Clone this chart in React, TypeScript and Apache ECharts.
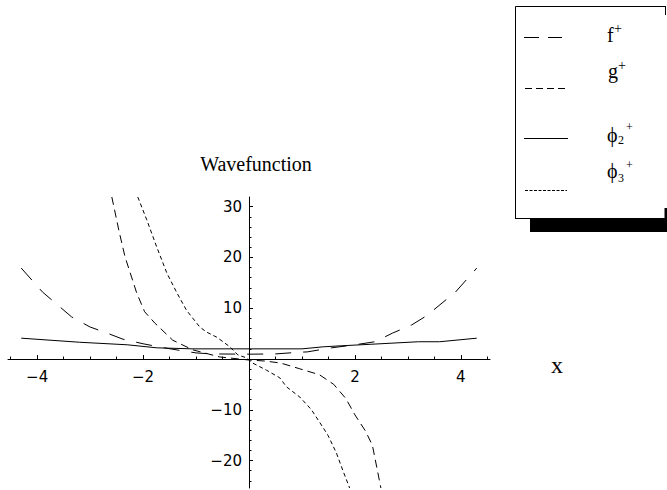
import React, { useEffect, useRef } from "react";
import * as echarts from "echarts";

// ---- data ----
const fPlus: number[][] = [
  [-4.3, 17.9], [-3.9, 13.2], [-3.35, 8.3], [-3.0, 6.3], [-2.68, 5.1], [-2.38, 3.9],
  [-2.0, 3.0], [-1.6, 2.2], [-1.25, 1.6], [-1.0, 1.2], [-0.7, 1.0], [0, 0.95],
  [0.5, 1.0], [0.9, 1.3], [1.1, 1.4], [1.56, 2.2], [2.0, 2.8], [2.38, 3.4],
  [2.71, 5.1], [3.07, 6.7], [3.35, 8.5], [3.9, 13.2], [4.3, 17.9],
];
const gPlus: number[][] = [
  [-2.59, 31.9], [-2.45, 25], [-2.34, 20.1], [-2.12, 13.0], [-1.97, 9.3], [-1.78, 7.1],
  [-1.44, 3.7], [-1.06, 1.8], [-0.55, 0.4], [0, -0.2], [0.3, -0.4], [0.6, -0.8],
  [0.95, -1.9], [1.33, -3.1], [1.6, -5.0], [1.83, -7.8], [2.0, -11], [2.2, -14.2],
  [2.33, -17], [2.49, -25.4],
];
const phi2Plus: number[][] = [
  [-4.3, 4.1], [-3.2, 3.3], [-2.3, 2.8], [-1.74, 2.2], [-1.06, 2.0], [0, 2.0],
  [1.0, 2.0], [1.4, 2.4], [1.74, 2.6], [2.3, 2.9], [3.2, 3.4], [3.6, 3.4], [4.3, 4.1],
];
const phi3Plus: number[][] = [
  [-2.1, 31.9], [-1.93, 27.4], [-1.74, 22.0], [-1.55, 16.9], [-1.36, 13.0], [-1.18, 9.6],
  [-0.93, 6.3], [-0.8, 5.3], [-0.61, 4.3], [-0.36, 2.4], [-0.21, 0.8], [-0.04, 0.2],
  [0.07, -0.8], [0.33, -2.2], [0.58, -3.7], [0.71, -5.5], [0.96, -7.5], [1.18, -10.0],
  [1.33, -12.4], [1.49, -15.0], [1.65, -18.5], [1.77, -21.9], [1.9, -25.4],
];

const xMajorLabels = [-4, -2, 2, 4];
const xMinorTicks = [-4.5, -4, -3.5, -3, -2.5, -2, -1.5, -1, -0.5, 0.5, 1, 1.5, 2, 2.5, 3, 3.5, 4, 4.5];
const yMajorLabels = [-20, -10, 10, 20, 30];
const yMinorTicks = [-24, -22, -20, -18, -16, -14, -12, -10, -8, -6, -4, -2, 2, 4, 6, 8, 10, 12, 14, 16, 18, 20, 22, 24, 26, 28, 30];

const X_MIN = -4.55, X_MAX = 4.55, Y_MIN = -25.4, Y_MAX = 31.9;

const fmt = (v: number) => String(v).replace("-", "\u2212");
const SERIF = "'Liberation Serif', 'Times New Roman', serif";
const SANS = "'DejaVu Sans', sans-serif";

const GRID = { left: 8, top: 197, width: 482, height: 291 };

export default function App() {
  const ref = useRef<HTMLDivElement>(null);
  useEffect(() => {
    if (!ref.current) return;
    const chart = echarts.init(ref.current, undefined, { renderer: "svg" });
    const axisLineStyle = { color: "#000", width: 1 };
    // place the axes on the zero lines of the other axis (scale-derived offsets)
    const xAxisOffset = -(GRID.height * (0 - Y_MIN)) / (Y_MAX - Y_MIN);
    const yAxisOffset = -(GRID.width * (0 - X_MIN)) / (X_MAX - X_MIN);
    const mk = (name: string, data: number[][], dash: any) => ({
      name,
      type: "line",
      data,
      showSymbol: false,
      symbol: "none",
      smooth: false,
      clip: true,
      lineStyle: { color: "#000", width: 1, type: dash },
      emphasis: { disabled: true },
    });
    const legendText = (text: string, x: number, y: number, size: number) => ({
      type: "text",
      x,
      y,
      style: {
        text,
        fill: "#000",
        font: `${size}px ${SERIF}`,
        textAlign: "left",
        textVerticalAlign: "middle",
      },
    });
    const hline = (x1: number, x2: number, y: number, dash: any) => ({
      type: "line",
      shape: { x1, y1: y, x2, y2: y },
      style: { stroke: "#000", lineWidth: 1, lineDash: dash },
    });
    chart.setOption({
      animation: false,
      backgroundColor: "#fff",
      grid: { ...GRID, containLabel: false, outerBoundsMode: "none" },
      xAxis: [
        {
          type: "value",
          position: "bottom",
          offset: xAxisOffset,
          min: X_MIN,
          max: X_MAX,
          axisLine: { show: true, onZero: false, lineStyle: axisLineStyle },
          axisTick: { show: true, inside: true, length: 4, customValues: xMajorLabels, lineStyle: axisLineStyle },
          axisLabel: {
            show: true,
            customValues: xMajorLabels,
            formatter: fmt,
            color: "#000",
            fontFamily: SANS,
            fontSize: 15,
            margin: 10,
          },
          splitLine: { show: false },
        },
        {
          type: "value",
          position: "bottom",
          offset: xAxisOffset,
          min: X_MIN,
          max: X_MAX,
          axisLine: { show: false, onZero: false },
          axisTick: { show: true, inside: true, length: 2.5, customValues: xMinorTicks, lineStyle: axisLineStyle },
          axisLabel: { show: false },
          splitLine: { show: false },
        },
      ],
      yAxis: [
        {
          type: "value",
          position: "left",
          offset: yAxisOffset,
          min: Y_MIN,
          max: Y_MAX,
          axisLine: { show: true, onZero: false, lineStyle: axisLineStyle },
          axisTick: { show: true, inside: true, length: 4, customValues: yMajorLabels, lineStyle: axisLineStyle },
          axisLabel: {
            show: true,
            customValues: yMajorLabels,
            formatter: fmt,
            color: "#000",
            fontFamily: SANS,
            fontSize: 15,
            margin: 7,
          },
          splitLine: { show: false },
        },
        {
          type: "value",
          position: "left",
          offset: yAxisOffset,
          min: Y_MIN,
          max: Y_MAX,
          axisLine: { show: false, onZero: false },
          axisTick: { show: true, inside: true, length: 2.5, customValues: yMinorTicks, lineStyle: axisLineStyle },
          axisLabel: { show: false },
          splitLine: { show: false },
        },
      ],
      series: [
        mk("f+", fPlus, [16, 12]),
        mk("g+", gPlus, [8, 5]),
        mk("phi2+", phi2Plus, "solid"),
        mk("phi3+", phi3Plus, [4, 3]),
      ],
      graphic: [
        {
          type: "text",
          x: 256,
          y: 164,
          style: { text: "Wavefunction", fill: "#000", font: `20px ${SERIF}`, textAlign: "center", textVerticalAlign: "middle" },
        },
        {
          type: "text",
          x: 557,
          y: 365,
          style: { text: "x", fill: "#000", font: `24px ${SERIF}`, textAlign: "center", textVerticalAlign: "middle" },
        },
        // legend shadow
        { type: "rect", shape: { x: 530, y: 219, width: 140, height: 13 }, style: { fill: "#000" } },
        { type: "rect", shape: { x: 664, y: 208, width: 6, height: 12 }, style: { fill: "#000" } },
        // legend box
        { type: "rect", shape: { x: 515.5, y: 6.5, width: 149, height: 212 }, style: { fill: "#fff" } },
        { type: "line", shape: { x1: 515.5, y1: 6.5, x2: 665.5, y2: 6.5 }, style: { stroke: "#000", lineWidth: 1 } },
        { type: "line", shape: { x1: 515.5, y1: 6.5, x2: 515.5, y2: 219 }, style: { stroke: "#000", lineWidth: 1 } },
        { type: "line", shape: { x1: 515, y1: 218.5, x2: 665, y2: 218.5 }, style: { stroke: "#000", lineWidth: 1 } },
        { type: "line", shape: { x1: 665.5, y1: 6, x2: 665.5, y2: 15 }, style: { stroke: "#000", lineWidth: 1 } },
        // legend samples
        hline(524, 562, 37.5, [15, 9]),
        hline(525, 566, 88.5, [7, 4]),
        hline(524, 568, 138.5, null),
        hline(525, 567, 190.5, [3, 1.5]),
        // legend labels
        legendText("f", 607, 35, 20),
        legendText("+", 614, 28, 14),
        legendText("g", 608, 71, 20),
        legendText("+", 618, 65.5, 14),
        legendText("\u03d5", 607, 135, 20),
        legendText("2", 618, 140, 12),
        legendText("+", 626, 126.5, 12),
        legendText("\u03d5", 607, 171, 20),
        legendText("3", 618, 178, 12),
        legendText("+", 626, 164.5, 12),
      ],
    });
    return () => chart.dispose();
  }, []);
  return (
    <div
      ref={ref}
      style={{ position: "fixed", left: 0, top: 0, width: 667, height: 490, background: "#fff" }}
    />
  );
}
